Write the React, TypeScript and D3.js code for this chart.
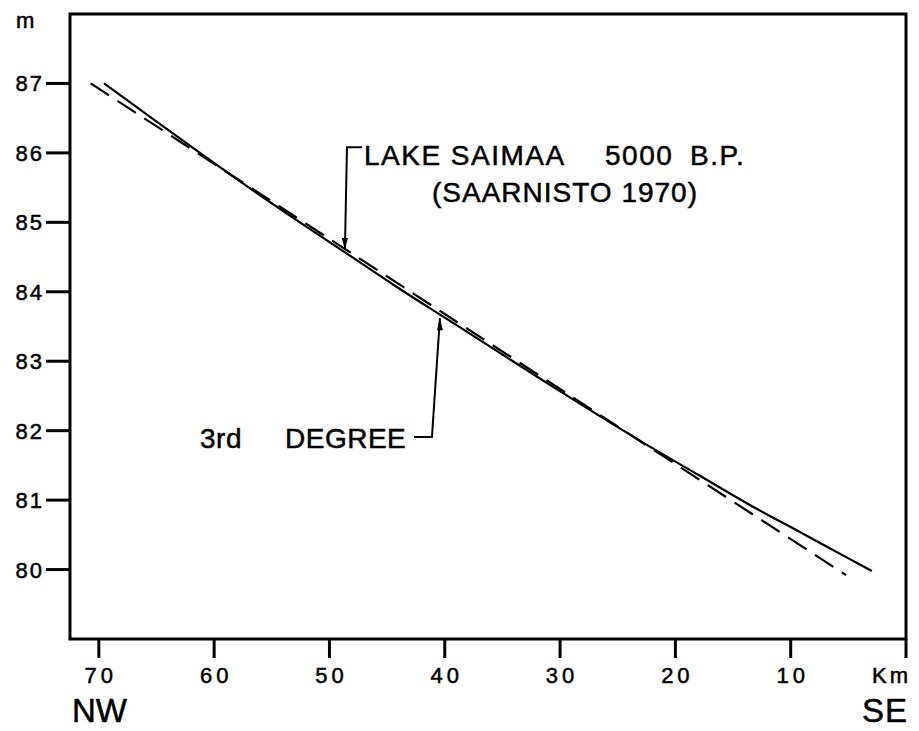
import React from 'react';
import * as d3 from 'd3';

const width = 919;
const height = 731;
const margin = { top: 14, right: 13, bottom: 92, left: 70 };

// 3rd degree fit (solid)
const fitKm = [69.55, 65.56, 61.23, 56.89, 52.56, 48.22, 43.89, 39.55, 35.22, 30.88, 26.55, 22.21, 17.88, 13.54, 9.2, 4.87, 2.96];
const fitM = [87.0, 86.52, 86.0, 85.49, 85.0, 84.52, 84.04, 83.58, 83.12, 82.66, 82.21, 81.77, 81.35, 80.93, 80.54, 80.15, 79.98];

// Lake Saimaa 5000 B.P. shoreline (dashed)
const saimaaKm = [70.7, 40, 5.2];
const saimaaM = [87.0, 83.68, 79.92];

const yTicks = [80, 81, 82, 83, 84, 85, 86, 87];
const xTicks = [70, 60, 50, 40, 30, 20, 10, 0];
const xTickLabels = ['70', '60', '50', '40', '30', '20', '10', 'Km'];

const font = '"Liberation Sans", Arial, Helvetica, sans-serif';
const ink = { fill: '#000', stroke: '#000', strokeWidth: 0.5 };

export default function App() {
  const x = d3.scaleLinear().domain([72.5, 0]).range([margin.left, width - margin.right]);
  const y = d3.scaleLinear().domain([79, 88]).range([height - margin.bottom, margin.top]);

  const line = d3
    .line<[number, number]>()
    .x(d => x(d[0]))
    .y(d => y(d[1]))
    .curve(d3.curveCatmullRom);

  const fit = fitKm.map((k, i) => [k, fitM[i]] as [number, number]);
  const saimaa = saimaaKm.map((k, i) => [k, saimaaM[i]] as [number, number]);

  const x0 = x(72.5);
  const x1 = x(0);
  const y0 = y(79);
  const y1 = y(88);

  // leader for LAKE SAIMAA label
  const sTip = [x(48.66), y(84.6)];
  const sTop = [x(48.48), y(86.08)];
  const sEnd = [x(47.18), y(86.08)];
  // leader for 3rd DEGREE label
  const dTip = [x(40.42), y(83.62)];
  const dCorner = [x(41.11), y(81.91)];
  const dEnd = [x(42.67), y(81.91)];

  return (
    <svg width={width} height={height} style={{ position: 'absolute', left: 0, top: 0, background: '#fff' }}>
      <rect x={x0} y={y1} width={x1 - x0} height={y0 - y1} fill="none" stroke="#000" strokeWidth={3} />

      {yTicks.map(t => (
        <g key={'y' + t}>
          <line x1={x0 - 24} x2={x0} y1={y(t)} y2={y(t)} stroke="#000" strokeWidth={3} />
          <text x={x0 - 26} y={y(t) + 8} textAnchor="end" fontFamily={font} fontSize={22} letterSpacing={2} {...ink}>
            {t}
          </text>
        </g>
      ))}
      <text x={16} y={28} fontFamily={font} fontSize={22} {...ink}>m</text>

      {xTicks.map((t, i) => (
        <g key={'x' + t}>
          <line x1={x(t)} x2={x(t)} y1={y0} y2={y0 + 19} stroke="#000" strokeWidth={3} />
          {t === 0 ? (
            <text x={x(t) + 5} y={y0 + 44} textAnchor="end" fontFamily={font} fontSize={22} letterSpacing={3} {...ink}>
              {xTickLabels[i]}
            </text>
          ) : (
            <text x={x(t) + 2} y={y0 + 44} textAnchor="middle" fontFamily={font} fontSize={22} letterSpacing={4} {...ink}>
              {xTickLabels[i]}
            </text>
          )}
        </g>
      ))}

      <text x={72} y={722} fontFamily={font} fontSize={33} {...ink}>NW</text>
      <text x={908} y={722} textAnchor="end" fontFamily={font} fontSize={33} letterSpacing={1} {...ink}>SE</text>

      <path d={line(saimaa) || ''} fill="none" stroke="#000" strokeWidth={2.2} strokeDasharray="22 10" />
      <path d={line(fit) || ''} fill="none" stroke="#000" strokeWidth={2.2} />

      {/* LAKE SAIMAA leader */}
      <polyline points={`${sEnd[0]},${sEnd[1]} ${sTop[0]},${sTop[1]} ${sTip[0]},${sTip[1]}`} fill="none" stroke="#000" strokeWidth={2} />
      <path d={`M${sTip[0]},${sTip[1]} l-3,-12 l6,0 z`} fill="#000" />
      <text x={sEnd[0] + 2} y={165} fontFamily={font} fontSize={28} letterSpacing={1.5} {...ink}>LAKE SAIMAA</text>
      <text x={605} y={165} fontFamily={font} fontSize={28} letterSpacing={1.5} {...ink}>5000</text>
      <text x={690} y={165} fontFamily={font} fontSize={28} letterSpacing={1.5} {...ink}>B.P.</text>
      <text x={432} y={202} fontFamily={font} fontSize={28} letterSpacing={1} {...ink}>(SAARNISTO 1970)</text>

      {/* 3rd DEGREE leader */}
      <polyline points={`${dEnd[0]},${dEnd[1]} ${dCorner[0]},${dCorner[1]} ${dTip[0]},${dTip[1]}`} fill="none" stroke="#000" strokeWidth={2} />
      <path d={`M${dTip[0]},${dTip[1]} l-3,12 l6,0 z`} fill="#000" />
      <text x={200} y={448} fontFamily={font} fontSize={28} letterSpacing={0.5} {...ink}>3rd</text>
      <text x={285} y={448} fontFamily={font} fontSize={28} letterSpacing={0.5} {...ink}>DEGREE</text>
    </svg>
  );
}
